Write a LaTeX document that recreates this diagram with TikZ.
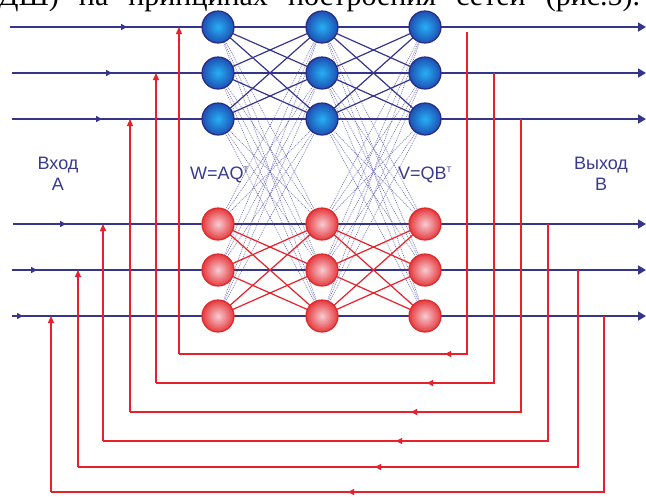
\documentclass[tikz,border=0pt]{standalone}
\usepackage{fontspec}
\setmainfont{Liberation Sans}
\newfontfamily\bodyserif{Liberation Serif}
\usetikzlibrary{arrows.meta,decorations.markings}

\definecolor{wire}{HTML}{35358C}
\definecolor{fbred}{HTML}{E8202A}
\definecolor{bluein}{HTML}{26B0F4}
\definecolor{blueout}{HTML}{1D4FB2}
\definecolor{blueedge}{HTML}{2A2A85}
\definecolor{redin}{HTML}{F7CCD2}
\definecolor{redout}{HTML}{E53A3E}
\definecolor{rededge}{HTML}{DD2A2A}
\definecolor{dotc}{HTML}{6A6AB8}
\definecolor{labelc}{HTML}{3A3A8E}

\pgfdeclarelayer{bg}
\pgfsetlayers{bg,main}

\tikzset{
  bnode/.style={circle, minimum size=32pt, inner sep=0pt, draw=blueedge, line width=1.2pt,
    shading=radial, inner color=bluein, outer color=blueout},
  rnode/.style={circle, minimum size=32pt, inner sep=0pt, draw=rededge, line width=1.2pt,
    shading=radial, inner color=redin, outer color=redout},
  row/.style={draw=wire, line width=1.7pt, -{Triangle[length=8pt,width=9pt]}},
  rowmark/.style={postaction={decorate}, decoration={markings,
    mark=at position #1 with {\arrow{Triangle[length=6pt,width=6pt]}}}},
  fb/.style={draw=fbred, line width=1.2pt},
  fbtip/.style={-{Triangle[length=7pt,width=6pt]}},
  fbmark/.style={postaction={decorate}, decoration={markings,
    mark=at position #1 with {\arrow{Triangle[length=6pt,width=6pt]}}}},
  blink/.style={draw=wire, line width=1.2pt},
  rlink/.style={draw=fbred, line width=1.2pt},
  dotlink/.style={draw=dotc, line width=0.6pt, dash pattern=on 1pt off 1pt},
  lbl/.style={text=labelc, font=\fontsize{18}{18}\selectfont, inner sep=0pt},
}

\begin{document}
\begin{tikzpicture}[x=1pt,y=-1pt]
\useasboundingbox (0,0) rectangle (646,496);

% running (justified) text line of the page above the figure
\node[anchor=base west, inner sep=0pt, font=\bodyserif\fontsize{30}{30}\selectfont] (pagetext)
  at (-2,5) {\makebox[642pt][s]{ДШ) на принципах построения сетей (рис.5).}};

% neurons: three columns, blue (upper) and red (lower) groups
\foreach \c/\x in {1/218,2/322,3/425}{
  \foreach \r/\y in {1/27,2/73,3/119}
    \node[bnode] (b\c\r) at (\x,\y) {};
  \foreach \r/\y in {1/224,2/270,3/316}
    \node[rnode] (r\c\r) at (\x,\y) {};
}

% row end points
\coordinate (in1) at (10,27);  \coordinate (out1) at (646,27);
\coordinate (in2) at (12,73);  \coordinate (out2) at (646,73);
\coordinate (in3) at (12,119); \coordinate (out3) at (646,119);
\coordinate (in4) at (13,224); \coordinate (out4) at (646,224);
\coordinate (in5) at (12,270); \coordinate (out5) at (646,270);
\coordinate (in6) at (12,316); \coordinate (out6) at (646,316);

% feedback taps (right), entry points (left), lower corners
\coordinate (tap1) at (467,32);  \coordinate (ent1) at (179,27);  \coordinate (cor1) at (179,354);
\coordinate (tap2) at (494,73);  \coordinate (ent2) at (156,73);  \coordinate (cor2) at (156,383);
\coordinate (tap3) at (521,119); \coordinate (ent3) at (130,119); \coordinate (cor3) at (130,412);
\coordinate (tap4) at (548,224); \coordinate (ent4) at (103,224); \coordinate (cor4) at (103,441);
\coordinate (tap5) at (578,270); \coordinate (ent5) at (78,270);  \coordinate (cor5) at (78,467);
\coordinate (tap6) at (604,316); \coordinate (ent6) at (51,316);  \coordinate (cor6) at (51,492);

\begin{pgfonlayer}{bg}
  \fill[white] (0,0) rectangle (646,496);
  % cross-group (dotted) links
  \foreach \c/\d in {1/2,2/3}
    \foreach \i in {1,2,3}
      \foreach \j in {1,2,3}{
        \draw[dotlink] (b\c\i.center) -- (r\d\j.center);
        \draw[dotlink] (r\c\i.center) -- (b\d\j.center);
      }
  % signal rows
  \draw[row, rowmark=117pt] (in1) -- (out1);
  \draw[row, rowmark=100pt] (in2) -- (out2);
  \draw[row, rowmark=90pt]  (in3) -- (out3);
  \draw[row, rowmark=53pt]  (in4) -- (out4);
  \draw[row, rowmark=25pt]  (in5) -- (out5);
  \draw[row, rowmark=11pt]  (in6) -- (out6);
  % in-group links
  \foreach \c/\d in {1/2,2/3}
    \foreach \i in {1,2,3}
      \foreach \j in {1,2,3}{
        \ifnum\i=\j\else
          \draw[blink] (b\c\i.center) -- (b\d\j.center);
          \draw[rlink] (r\c\i.center) -- (r\d\j.center);
        \fi
      }
  % feedback loops
  \draw[fb, fbmark=-266pt] (tap1) |- (cor1);  \draw[fb, fbtip] (cor1) -- (ent1);
  \draw[fb, fbmark=-271pt] (tap2) |- (cor2);  \draw[fb, fbtip] (cor2) -- (ent2);
  \draw[fb, fbmark=-281pt] (tap3) |- (cor3);  \draw[fb, fbtip] (cor3) -- (ent3);
  \draw[fb, fbmark=-293pt] (tap4) |- (cor4);  \draw[fb, fbtip] (cor4) -- (ent4);
  \draw[fb, fbmark=-297pt] (tap5) |- (cor5);  \draw[fb, fbtip] (cor5) -- (ent5);
  \draw[fb, fbmark=-297pt] (tap6) |- (cor6);  \draw[fb, fbtip] (cor6) -- (ent6);
\end{pgfonlayer}

% labels
\node[lbl, anchor=base] (inA1) at (58,169) {Вход};
\node[lbl, anchor=base] (inA2) at (58,190) {А};
\node[lbl, anchor=base] (outB1) at (601,169) {Выход};
\node[lbl, anchor=base] (outB2) at (601,190) {В};
\node[lbl, anchor=base west] (wlab) at (190,179) {W=AQ\raisebox{7pt}{\fontsize{8}{8}\selectfont T}};
\node[lbl, anchor=base west] (vlab) at (398,179) {V=QB\raisebox{7pt}{\fontsize{8}{8}\selectfont T}};
\end{tikzpicture}
\end{document}
